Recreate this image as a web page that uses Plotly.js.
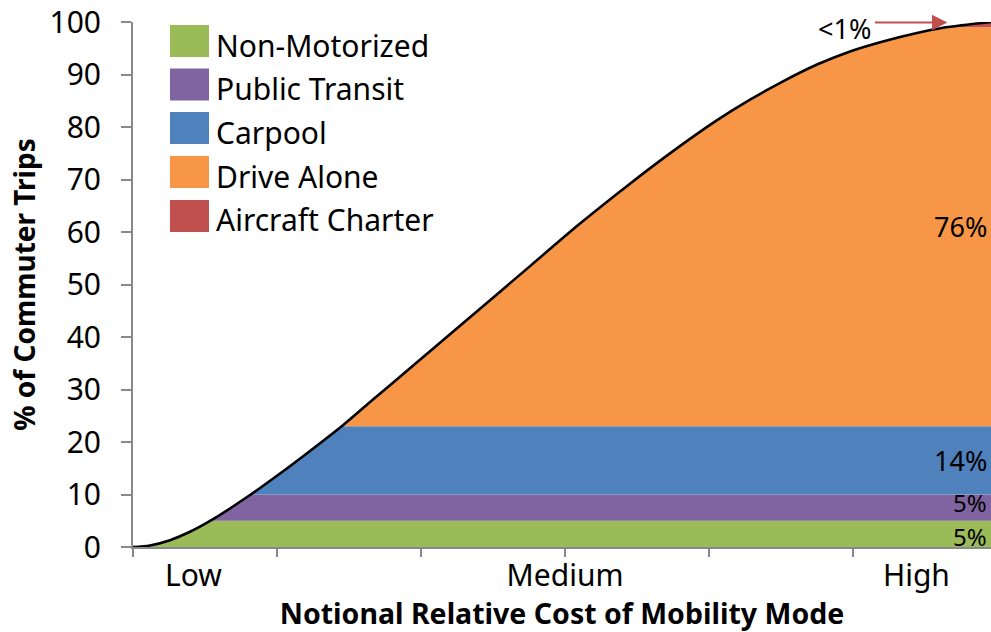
<!DOCTYPE html>
<html><head><meta charset="utf-8">
<script src="https://cdn.plot.ly/plotly-3.0.1.min.js"></script>
<style>html,body{margin:0;padding:0;background:#fff}#chart{width:991px;height:632px}</style>
</head><body><div id="chart"></div>
<script>
// ---- data ----
const modes = ['Non-Motorized', 'Public Transit', 'Carpool', 'Drive Alone', 'Aircraft Charter'];
const cumLevels = [5, 10, 23, 99, 100];          // cumulative % boundaries of each mode band
const shareLabels = ['5%', '5%', '14%', '76%', '<1%'];
const modeColors = ['#9BBB59', '#8064A2', '#4F81BD', '#F79646', '#C0504D'];
const costX = [0, 0.118, 0.257, 0.396, 0.556, 0.8125, 1.021, 1.229, 1.458, 1.646, 1.840, 2.0625, 2.410, 2.757,
  3.104, 3.451, 3.75, 4.056, 4.285, 4.514, 4.75, 4.979, 5.208, 5.444, 5.625, 5.958];
const tripPct = [0, 0.3, 1.3, 2.9, 5.3, 9.9, 14.0, 18.3, 23.2, 27.6, 32.1, 37.3, 45.4, 53.5,
  61.6, 69.2, 75.4, 81.3, 85.2, 88.7, 91.9, 94.4, 96.3, 97.9, 98.9, 100];
const costTickVals = [0, 1, 2, 3, 4, 5, 6];
const costLabels = ['Low', 'Medium', 'High'];
const costLabelPos = [0.42, 3, 5.44];

// ---- helpers ----
const xMax = costX[costX.length - 1];
function crossing(L) {
  for (let i = 0; i < tripPct.length - 1; i++) {
    if (tripPct[i] < L && tripPct[i + 1] >= L) {
      return costX[i] + (L - tripPct[i]) / (tripPct[i + 1] - tripPct[i]) * (costX[i + 1] - costX[i]);
    }
  }
  return xMax;
}
function interp(x) {
  for (let i = 0; i < costX.length - 1; i++) {
    if (x >= costX[i] && x <= costX[i + 1]) {
      const t = (x - costX[i]) / (costX[i + 1] - costX[i]);
      return tripPct[i] + t * (tripPct[i + 1] - tripPct[i]);
    }
  }
  return tripPct[tripPct.length - 1];
}
let grid = costX.slice();
cumLevels.forEach(L => grid.push(crossing(L)));
grid = Array.from(new Set(grid)).sort((a, b) => a - b);
const gridY = grid.map(interp);

const FONT = 'Noto Sans, Open Sans, sans-serif';
const GRAY = '#898989';

const traces = cumLevels.map((L, k) => ({
  type: 'scatter', mode: 'lines', x: grid, y: gridY.map(v => Math.min(v, L)),
  fill: k === 0 ? 'tozeroy' : 'tonexty', fillcolor: modeColors[k],
  line: {width: 0, color: modeColors[k]}, name: modes[k], showlegend: false, hoverinfo: 'skip'
}));
traces.push({
  type: 'scatter', mode: 'lines', x: costX, y: tripPct, xaxis: 'x2', yaxis: 'y',
  line: {color: '#000', width: 2.6, shape: 'spline', smoothing: 0.8}, showlegend: false, name: 'Cumulative'
});

// pixel -> paper helpers for legend layout
const L0 = 133, R0 = 991, T0 = 22, B0 = 547;
const px = p => (p - L0) / (R0 - L0);
const py = p => (B0 - p) / (B0 - T0);

const shapes = [];
const annotations = [];
const legendCenters = [41, 84.5, 128, 172, 216];
modes.forEach((m, k) => {
  const c = legendCenters[k];
  shapes.push({type: 'rect', xref: 'paper', yref: 'paper', x0: px(170), x1: px(209), y0: py(c + 16), y1: py(c - 16),
    fillcolor: modeColors[k], line: {width: 0}, layer: 'above'});
  annotations.push({xref: 'paper', yref: 'paper', x: px(214), y: py(c + 4), xanchor: 'left', yanchor: 'middle',
    text: m, showarrow: false, font: {family: FONT, size: 30, color: '#000'}});
});

// share labels on bands
const labelShift = [-3, 5, 0, 0];
for (let k = 0; k < 4; k++) {
  const lo = k === 0 ? 0 : cumLevels[k - 1];
  annotations.push({x: xMax, y: (lo + cumLevels[k]) / 2, xref: 'x', yref: 'y', xanchor: 'right', yanchor: 'middle',
    text: shareLabels[k], showarrow: false, xshift: -2, yshift: labelShift[k],
    font: {family: FONT, size: k < 2 ? 24 : 27, color: '#000'}});
}
const headX = crossing(cumLevels[3]);
annotations.push({x: headX, y: 99.9, xref: 'x', yref: 'y', text: '', showarrow: true, ax: -74, ay: 0,
  arrowhead: 2, arrowsize: 1.4, arrowwidth: 2.2, arrowcolor: '#C0504D', standoff: 0, startstandoff: 0});
annotations.push({x: headX, y: 99.9, xref: 'x', yref: 'y', text: shareLabels[4], showarrow: false,
  xanchor: 'right', yanchor: 'middle', xshift: -74, yshift: -6, font: {family: FONT, size: 27, color: '#000'}});

const layout = {
  width: 991, height: 632,
  margin: {l: L0, r: 991 - R0, t: T0, b: 632 - B0, pad: 0},
  paper_bgcolor: '#fff', plot_bgcolor: '#fff',
  font: {family: FONT, color: '#000'},
  showlegend: false,
  xaxis: {range: [0, xMax], tickvals: costTickVals, showticklabels: false, ticks: 'outside', ticklen: 8,
    tickwidth: 2, tickcolor: GRAY, showline: true, linecolor: GRAY, linewidth: 2, showgrid: false, zeroline: false,
    fixedrange: true},
  xaxis2: {overlaying: 'x', anchor: 'y', side: 'bottom', range: [0, xMax], tickvals: costLabelPos, ticktext: costLabels,
    ticks: '', showline: false, showgrid: false, zeroline: false, ticklabelstandoff: 8,
    tickfont: {family: FONT, size: 30, color: '#000'},
    title: {text: '<b>Notional Relative Cost of Mobility Mode</b>', font: {family: FONT, size: 28.5, color: '#000'}, standoff: 16}},
  yaxis: {range: [0, 100], dtick: 10, tick0: 0, ticks: 'outside', ticklen: 10, tickwidth: 2, tickcolor: GRAY,
    showline: true, linecolor: GRAY, linewidth: 2, showgrid: false, zeroline: false, ticklabelstandoff: 14,
    tickfont: {family: FONT, size: 30, color: '#000'},
    title: {text: '<b>% of Commuter Trips</b>', font: {family: FONT, size: 28, color: '#000'}, standoff: 6}},
  shapes: shapes,
  annotations: annotations
};

Plotly.newPlot('chart', traces, layout, {staticPlot: true, displayModeBar: false});
</script>
</body></html>
